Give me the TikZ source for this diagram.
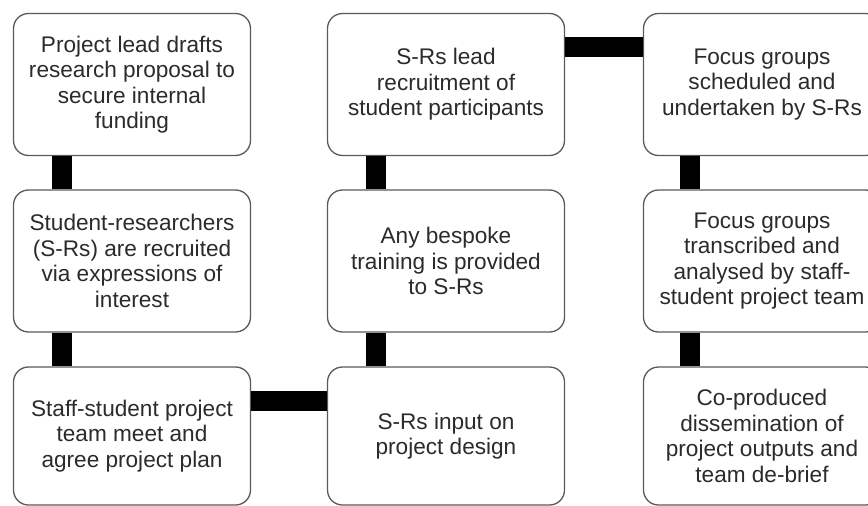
\documentclass[tikz,border=0pt]{standalone}
\usepackage{fontspec}
\setmainfont{Liberation Sans}
\definecolor{boxline}{HTML}{5A5A5A}
\definecolor{boxtext}{HTML}{2B2B2B}
\tikzset{
	stagebox/.style={draw=boxline, line width=1.3pt, rounded corners=15pt, fill=white,
		minimum width=237pt, minimum height=142pt, align=center, text=boxtext,
		inner sep=2pt},
	link/.style={line width=20pt, draw=black, line cap=butt}
}
\begin{document}
\begin{tikzpicture}[x=1pt, y=-1pt, font=\fontsize{22.6}{25.5}\selectfont, line join=round]
		\useasboundingbox (0,0) rectangle (868,506);
		\node[stagebox] (lead) at (132,84.5){Project lead drafts\\research proposal to\\secure internal\\funding};
		\node[stagebox] (recruit) at (132,261){Student-researchers\\(S-Rs) are recruited\\via expressions of\\interest};
		\node[stagebox, minimum height=138pt] (plan) at (132,436){Staff-student project\\team meet and\\agree project plan};
		\node[stagebox, minimum height=138pt] (design) at (446,436){S-Rs input on\\project design};
		\node[stagebox] (training) at (446,261){Any bespoke\\training is provided\\to S-Rs};
		\node[stagebox] (participants) at (446,84.5){S-Rs lead\\recruitment of\\student participants};
		\node[stagebox] (scheduled) at (762,84.5){Focus groups\\scheduled and\\undertaken by S-Rs};
		\node[stagebox] (analysed) at (762,261){Focus groups\\transcribed and\\analysed by staff-\\student project team};
		\node[stagebox, minimum height=138pt] (dissemination) at (762,436){Co-produced\\dissemination of\\project outputs and\\team de-brief};
		% thick joins between stages
		\draw[link]([xshift=-70pt]lead.south)--([xshift=-70pt]recruit.north);
		\draw[link]([xshift=-70pt]recruit.south)--([xshift=-70pt]plan.north);
		\draw[link]([yshift=35pt]plan.east)--([yshift=35pt]design.west);
		\draw[link]([xshift=-70.5pt]design.north)--([xshift=-70.5pt]training.south);
		\draw[link]([xshift=-70.5pt]training.north)--([xshift=-70.5pt]participants.south);
		\draw[link]([yshift=37.5pt]participants.east)--([yshift=37.5pt]scheduled.west);
		\draw[link]([xshift=-72pt]scheduled.south)--([xshift=-72pt]analysed.north);
		\draw[link]([xshift=-72pt]analysed.south)--([xshift=-72pt]dissemination.north);
	\end{tikzpicture}
\end{document}
